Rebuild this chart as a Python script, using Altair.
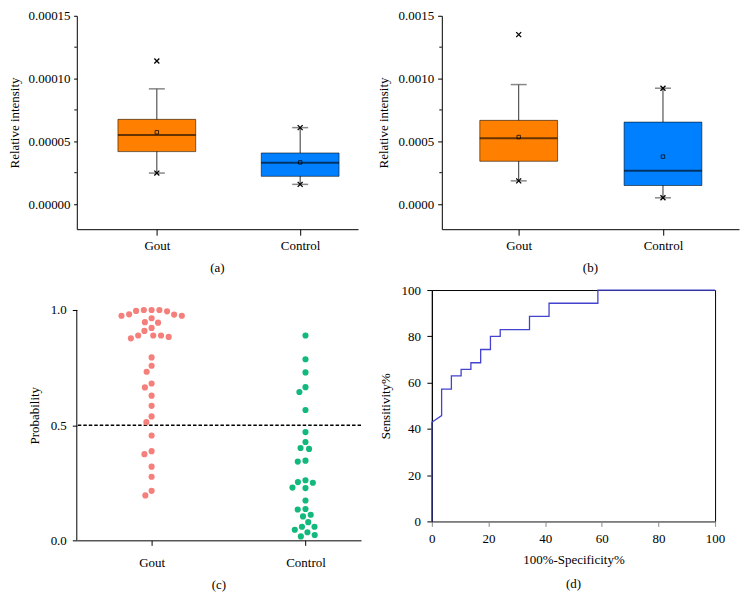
import math
import altair as alt
import pandas as pd

FONT = "Liberation Serif"
GROUPS = ["Gout", "Control"]
BOX_COLORS = ["#FF8000", "#0080FF"]
PT_COLORS = ["#F57F7A", "#12B97C"]
LABEL_EXPR = "[" + ",".join("'%s'" % g for g in GROUPS) + "][datum.value - 1]"
XSHAPE = "M-1,-1L1,1M-1,1L1,-1"

# ---- panel (a)
A_Q1 = [4.18e-5, 2.21e-5]
A_MED = [5.50e-5, 3.30e-5]
A_Q3 = [6.75e-5, 4.07e-5]
A_LO = [2.47e-5, 1.57e-5]
A_HI = [9.18e-5, 6.09e-5]
A_MEAN = [5.72e-5, 3.32e-5]
A_MK_GROUP = ["Gout", "Gout", "Control", "Control"]
A_MK_VAL = [1.14e-4, 2.47e-5, 6.09e-5, 1.57e-5]
A_TICKS = [0.0, 5e-5, 1e-4, 1.5e-4]
A_MINOR = [2.5e-5, 7.5e-5, 1.25e-4]
A_YDOM = [-2e-5, 1.5e-4]

# ---- panel (b)
B_Q1 = [3.41e-4, 1.48e-4]
B_MED = [5.24e-4, 2.65e-4]
B_Q3 = [6.67e-4, 6.53e-4]
B_LO = [1.85e-4, 5.0e-5]
B_HI = [9.52e-4, 9.23e-4]
B_MEAN = [5.34e-4, 3.78e-4]
B_MK_GROUP = ["Gout", "Gout", "Control", "Control"]
B_MK_VAL = [1.35e-3, 1.85e-4, 9.23e-4, 5.0e-5]
B_TICKS = [0.0, 5e-4, 1e-3, 1.5e-3]
B_MINOR = [2.5e-4, 7.5e-4, 1.25e-3]
B_YDOM = [-2e-4, 1.5e-3]

# ---- panel (c)
C_GOUT = [1.000, 1.000, 0.994, 0.980, 0.975, 0.964, 0.975, 0.981, 0.996, 1.000,
          0.947, 0.945, 0.922,
          0.909, 0.889, 0.883, 0.877, 0.889, 0.889,
          0.794, 0.758, 0.732, 0.681, 0.664, 0.628, 0.584, 0.538, 0.513, 0.455,
          0.387, 0.374, 0.320, 0.276, 0.215, 0.195]
C_CONTROL = [0.889, 0.786, 0.729, 0.665, 0.644, 0.566, 0.470, 0.427, 0.397, 0.401,
             0.346, 0.342, 0.261, 0.250, 0.227, 0.229, 0.253, 0.173, 0.134, 0.136,
             0.104, 0.111, 0.059, 0.059, 0.079, 0.035, 0.046, 0.017, 0.023]
C_TICKS = [0.0, 0.5, 1.0]
C_THRESHOLD = [0.5]

# ---- panel (d)
D_FPR = [0, 0, 3.45, 3.45, 6.90, 6.90, 10.34, 10.34, 13.79, 13.79, 17.24, 17.24,
         20.69, 20.69, 24.14, 24.14, 34.48, 34.48, 41.38, 41.38, 58.62, 58.62, 100]
D_TPR = [0, 42.86, 45.71, 57.14, 57.14, 62.86, 62.86, 65.71, 65.71, 68.57, 68.57,
         74.29, 74.29, 80.00, 80.00, 82.86, 82.86, 88.57, 88.57, 94.29, 94.29, 100, 100]
D_TICKS = [0, 20, 40, 60, 80, 100]


def box_panel(q1, med, q3, lo, hi, mean, mk_group, mk_val, ticks, minor, ydom, fmt,
              xdom, width, height, label, ypad):
    stats = pd.DataFrame({"group": GROUPS, "idx": [1, 2], "q1": q1, "med": med,
                          "q3": q3, "lo": lo, "hi": hi, "mean": mean})
    marks = pd.DataFrame({"group": mk_group, "val": mk_val,
                          "idx": [GROUPS.index(g) + 1 for g in mk_group]})
    minor_df = pd.DataFrame({"v": minor})
    xs = alt.Scale(domain=xdom, nice=False, zero=False)
    ys = alt.Scale(domain=ydom, nice=False, zero=False)
    xa = alt.Axis(values=[1, 2], labelExpr=LABEL_EXPR, tickSize=6, labelPadding=4.5,
                  labelFlush=False)
    ya = alt.Axis(values=ticks, format=fmt, titlePadding=ypad[0], labelPadding=ypad[1],
                  tickSize=ypad[2])
    X = alt.X("idx:Q", scale=xs, axis=xa, title=None)

    def Y(f):
        return alt.Y(f, type="quantitative", scale=ys, axis=ya, title="Relative intensity")

    col = alt.Color("group:N", scale=alt.Scale(domain=GROUPS, range=BOX_COLORS), legend=None)
    base = alt.Chart(stats)
    whisker = base.mark_rule(color="#333333", strokeWidth=1).encode(x=X, y=Y("lo"), y2="hi")
    cap_hi = base.mark_tick(orient="horizontal", size=16, thickness=1.5, color="#555555").encode(x=X, y=Y("hi"))
    cap_lo = base.mark_tick(orient="horizontal", size=16, thickness=1.5, color="#555555").encode(x=X, y=Y("lo"))
    box = base.mark_bar(size=78, stroke="black", strokeOpacity=0.55, strokeWidth=1).encode(
        x=X, y=Y("q1"), y2="q3", color=col)
    median = base.mark_tick(orient="horizontal", size=78, thickness=2, color="black",
                            opacity=0.6).encode(x=X, y=Y("med"))
    meanpt = base.mark_point(shape="square", size=12, filled=False, color="black",
                             opacity=0.75, strokeWidth=1).encode(x=X, y=Y("mean"))
    xmk = alt.Chart(marks).mark_point(shape=XSHAPE, size=25, filled=False, color="black",
                                      strokeWidth=1.3, opacity=1).encode(x=X, y=Y("val"))
    minor_t = alt.Chart(minor_df).mark_rule(color="black", strokeWidth=1).encode(
        x=alt.value(-2.5), x2=alt.value(0), y=Y("v"))
    return alt.layer(whisker, cap_hi, cap_lo, box, median, meanpt, xmk, minor_t).properties(
        width=width, height=height,
        title=alt.TitleParams(label, orient="bottom", anchor="middle", offset=9))


chart_a = box_panel(A_Q1, A_MED, A_Q3, A_LO, A_HI, A_MEAN, A_MK_GROUP, A_MK_VAL, A_TICKS,
                    A_MINOR, A_YDOM, ".5f", [0.4765, 2.369], 282, 214, "(a)", (6, 3.5, 3.25))
chart_b = box_panel(B_Q1, B_MED, B_Q3, B_LO, B_HI, B_MEAN, B_MK_GROUP, B_MK_VAL, B_TICKS,
                    B_MINOR, B_YDOM, ".4f", [0.5017, 2.4924], 298, 214, "(b)", (8, 4, 4.2))


# ---- beeswarm layout for (c)
def swarm(vals, ppu_y, D):
    order = sorted(range(len(vals)), key=lambda i: -vals[i])
    placed = []
    offs = [0.0] * len(vals)
    for i in order:
        y = vals[i] * ppu_y
        cands = [0.0]
        for px, py in placed:
            dy = abs(py - y)
            if dy < D:
                dx = math.sqrt(D * D - dy * dy)
                cands += [px + dx, px - dx]
        cands.sort(key=lambda c: (abs(c), c))
        for c in cands:
            if all((c - px) ** 2 + (y - py) ** 2 >= D * D - 1e-6 for px, py in placed):
                offs[i] = c
                break
        placed.append((offs[i], y))
    return offs


C_W, C_H = 285, 251
C_XDOM = [0.5139, 2.361]
C_YDOM = [0.0, 1.0866]
ppu_x = C_W / (C_XDOM[1] - C_XDOM[0])
ppu_y = C_H / (C_YDOM[1] - C_YDOM[0])
rows = []
for gi, (g, vals) in enumerate(zip(GROUPS, [C_GOUT, C_CONTROL])):
    offs = swarm(vals, ppu_y, 7.8)
    for v, o in zip(vals, offs):
        rows.append({"grp": g, "p": v, "xpos": gi + 1 + o / ppu_x})
pts = pd.DataFrame(rows)

c_ys = alt.Scale(domain=C_YDOM, nice=False, zero=False)
c_ya = alt.Axis(values=C_TICKS, format=".1f", titlePadding=9, labelPadding=6, tickSize=4.5,
                domain=False)
c_points = alt.Chart(pts).mark_circle(size=38, opacity=1).encode(
    x=alt.X("xpos:Q", scale=alt.Scale(domain=C_XDOM, nice=False, zero=False),
            axis=alt.Axis(values=[1, 2], labelExpr=LABEL_EXPR, tickSize=5, labelPadding=11,
                          labelFlush=False),
            title=None),
    y=alt.Y("p:Q", scale=c_ys, axis=c_ya, title="Probability"),
    color=alt.Color("grp:N", scale=alt.Scale(domain=GROUPS, range=PT_COLORS), legend=None),
)
c_rule = alt.Chart(pd.DataFrame({"t": C_THRESHOLD})).mark_rule(
    color="black", strokeDash=[3.5, 2], strokeWidth=1.5).encode(
    y=alt.Y("t:Q", scale=c_ys, axis=c_ya, title="Probability"))
c_axisline = alt.Chart(pd.DataFrame({"lo": [min(C_TICKS)], "hi": [max(C_TICKS)]})).mark_rule(
    color="black", strokeWidth=1).encode(
    x=alt.value(0), y=alt.Y("lo:Q", scale=c_ys, axis=c_ya, title="Probability"), y2="hi")
chart_c = alt.layer(c_axisline, c_rule, c_points).properties(
    width=C_W, height=C_H,
    title=alt.TitleParams("(c)", orient="bottom", anchor="middle", offset=9.5))

# ---- (d) ROC
roc = pd.DataFrame({"fpr": D_FPR, "tpr": D_TPR, "i": list(range(len(D_FPR)))})
chart_d = alt.Chart(roc).mark_line(color="#4343CF", strokeWidth=1.3).encode(
    x=alt.X("fpr:Q", scale=alt.Scale(domain=[0, 100], nice=False, zero=False),
            axis=alt.Axis(values=D_TICKS, tickSize=5, labelPadding=6, titlePadding=8.5,
                          labelFlush=False, domainColor="#8c8c8c", tickColor="#8c8c8c"),
            title="100%-Specificity%"),
    y=alt.Y("tpr:Q", scale=alt.Scale(domain=[0, 100], nice=False, zero=False),
            axis=alt.Axis(values=D_TICKS, tickSize=5, labelPadding=6.5, titlePadding=8.5),
            title="Sensitivity%"),
    order="i:Q",
).properties(width=284, height=232, view=alt.ViewBackground(stroke="black", strokeWidth=1),
             title=alt.TitleParams("(d)", orient="bottom", anchor="middle", offset=11))

row1 = alt.hconcat(chart_a, chart_b, spacing=17)
row2 = alt.hconcat(chart_c, chart_d, spacing=16)

chart = alt.vconcat(row1, row2, spacing=8).resolve_scale(color="independent").properties(
    padding=0).configure_view(stroke="transparent").configure_axis(
    grid=False, labelFont=FONT, titleFont=FONT, labelFontSize=13, titleFontSize=13,
    titleFontWeight="normal", labelColor="black", titleColor="black",
    domainColor="black", tickColor="black", domainWidth=1, tickWidth=1).configure_title(
    font=FONT, fontSize=13, fontWeight="normal", color="black")

chart.save("out.html", embed_options={"renderer": "svg", "actions": False})
